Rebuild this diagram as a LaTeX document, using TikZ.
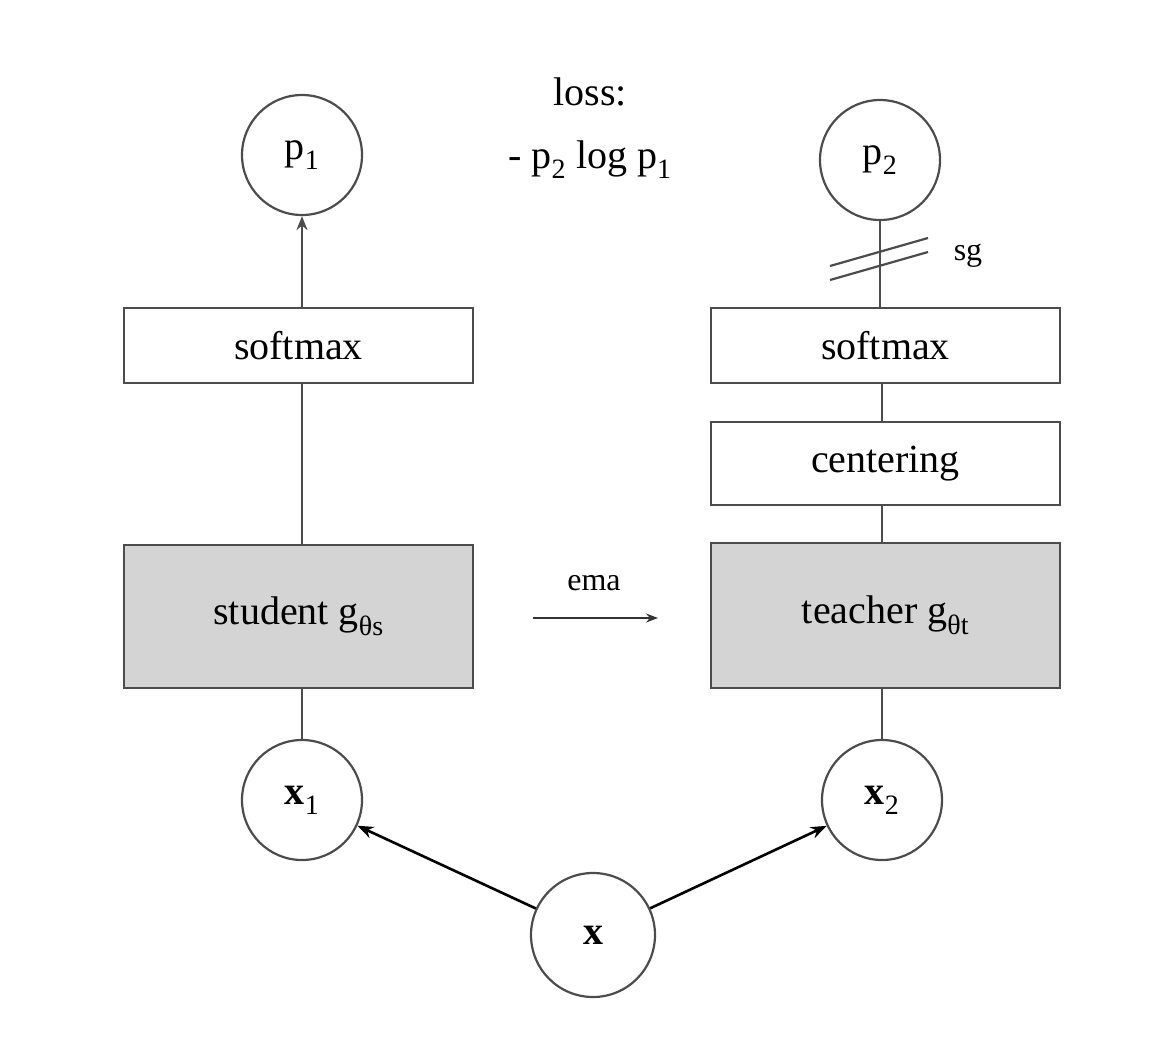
\documentclass[tikz,border=0pt]{standalone}
\usepackage{fontspec}
\setmainfont{Liberation Serif}
\usetikzlibrary{arrows.meta}
\begin{document}
\begin{tikzpicture}[x=1pt,y=-1pt,
  ln/.style={draw=black!70,line width=2.2pt},
  circ/.style={circle,draw=black!70,line width=2.2pt,minimum size=120pt,inner sep=0pt,font=\fontsize{40}{48}\selectfont},
  box/.style={draw=black!70,line width=2.2pt,minimum width=349pt,inner sep=0pt,font=\fontsize{40}{48}\selectfont},
  net/.style={box,fill=black!17,minimum height=143pt},
  sm/.style={box,minimum height=75pt},
  tx/.style={font=\fontsize{40}{48}\selectfont}]
\useasboundingbox (0,0) rectangle (1166,1060);
\node[circ] (p1) at (302,155) {p\textsubscript{1}};
\node[circ] (p2) at (880,160) {p\textsubscript{2}};
\node[tx] (loss) at (590,92) {loss:};
\node[tx] (lf) at (590,160) {- p\textsubscript{2} log p\textsubscript{1}};
\node[sm] (smL) at (298.5,345.5) {softmax};
\node[sm] (smR) at (885.5,345.5) {softmax};
\node[box,minimum height=83pt] (cen) at (885.5,463.5) {centering};
\node[net] (stu) at (298.5,616.5) {student g\textsubscript{θs}};
\node[net,minimum height=145pt] (tea) at (885.5,615.5) {teacher g\textsubscript{θt}};
\node[circ] (x1) at (302,800) {\textbf{x}\textsubscript{1}};
\node[circ] (x2) at (882,800) {\textbf{x}\textsubscript{2}};
\node[circ,minimum size=124pt] (x) at (593,935) {\textbf{x}};
\node[font=\fontsize{32}{38}\selectfont] (ema) at (594,583) {ema};
\coordinate (e1) at (533,618); \coordinate (e2) at (658,618);
\draw[black!80,line width=1.2pt,-{Stealth[length=12pt,width=9pt]}] (e1) -- (e2);
\draw[ln] (x1) -- (stu.south -| x1);
\draw[ln] (stu.north -| x1) -- (smL.south -| x1);
\draw[ln,-{Stealth[length=14pt,width=11pt]}] (smL.north -| p1) -- (p1);
\draw[ln] (x2) -- (tea.south -| x2);
\draw[ln] (tea.north -| x2) -- (cen.south -| x2);
\draw[ln] (cen.north -| x2) -- (smR.south -| x2);
\draw[ln] (smR.north -| p2) -- (p2);
\coordinate (h1a) at (830,266); \coordinate (h1b) at (928,238);
\coordinate (h2a) at (830,280); \coordinate (h2b) at (928,252);
\draw[ln] (h1a) -- (h1b); \draw[ln] (h2a) -- (h2b);
\node[font=\fontsize{32}{38}\selectfont] (sg) at (968,256) {sg};
\draw[black,line width=2.6pt,-{Stealth[length=16pt,width=12pt]}] (x) -- (x1);
\draw[black,line width=2.6pt,-{Stealth[length=16pt,width=12pt]}] (x) -- (x2);
\end{tikzpicture}
\end{document}
